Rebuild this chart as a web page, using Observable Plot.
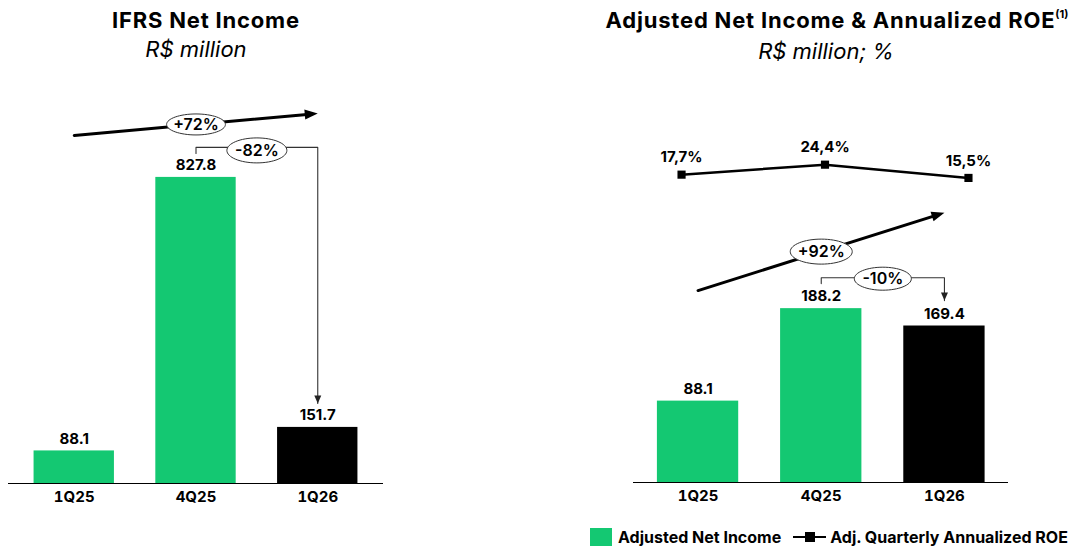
<!DOCTYPE html>
<html>
<head>
<meta charset="utf-8">
<script src="https://cdn.jsdelivr.net/npm/d3@7"></script>
<script src="https://cdn.jsdelivr.net/npm/@observablehq/plot@0.6"></script>
<style>
  body { margin: 0; background: #fff; font-family: Inter, "Noto Sans", sans-serif; color: #000; }
  #root { position: relative; width: 1073px; height: 548px; overflow: hidden; }
  .title { position: absolute; text-align: center; font-weight: 700; font-size: 22px; line-height: 28px; white-space: nowrap; letter-spacing: 0.8px; }
  .title sup { font-size: 11px; vertical-align: 10px; line-height: 0; letter-spacing: 0; }
  .sub { position: absolute; text-align: center; font-style: italic; font-size: 22px; line-height: 26px; white-space: nowrap; }
  .chart { position: absolute; top: 70px; }
  .legend { position: absolute; left: 590px; top: 527px; height: 19px; display: flex; align-items: center; font-weight: 700; font-size: 16px; white-space: nowrap; }
  .sw { display: inline-block; width: 22px; height: 18px; margin-right: 6px; }
  .lineicon { position: relative; display: inline-block; width: 33px; height: 18px; margin-left: 12px; margin-right: 4px; }
  .lineicon::before { content: ""; position: absolute; left: 0; right: 0; top: 8px; height: 2.5px; background: #000; }
  .lineicon::after { content: ""; position: absolute; left: 12px; top: 4.5px; width: 10px; height: 10px; background: #000; }
</style>
</head>
<body>
<div id="root">
  <div class="title" style="left:0px;width:412px;top:6px;">IFRS Net Income</div>
  <div class="sub" style="left:0px;width:392px;top:36px;">R$ million</div>
  <div class="title" style="left:587px;width:500px;top:6px;">Adjusted Net Income &amp; Annualized ROE<sup>(1)</sup></div>
  <div class="sub" style="left:626px;width:400px;top:38px;">R$ million; %</div>
  <div id="left" class="chart" style="left:0px;"></div>
  <div id="right" class="chart" style="left:580px;"></div>
  <div class="legend" id="legend"></div>
</div>
<script>
// ---------------- data ----------------
const quarters = ["1Q25", "4Q25", "1Q26"];
const ifrsNetIncome = [88.1, 827.8, 151.7];
const adjNetIncome = [88.1, 188.2, 169.4];
const adjAnnualizedRoe = [17.7, 24.4, 15.5];
const ifrsChanges = ["+72%", "-82%"];   // 1Q26 vs 1Q25, 1Q26 vs 4Q25
const adjChanges = ["+92%", "-10%"];    // 1Q26 vs 1Q25, 1Q26 vs 4Q25
const seriesNames = ["Adjusted Net Income", "Adj. Quarterly Annualized ROE"];

// ---------------- styles ----------------
const GREEN = "#14c872";
const BLACK = "#000000";
const HALF_BAR = 0.33;

function ellipseSymbol(aspect) {
  return {
    draw(context, size) {
      const ry = Math.sqrt(size / Math.PI), rx = ry * aspect, k = 0.5523;
      context.moveTo(rx, 0);
      context.bezierCurveTo(rx, ry * k, rx * k, ry, 0, ry);
      context.bezierCurveTo(-rx * k, ry, -rx, ry * k, -rx, 0);
      context.bezierCurveTo(-rx, -ry * k, -rx * k, -ry, 0, -ry);
      context.bezierCurveTo(rx * k, -ry, rx, -ry * k, rx, 0);
      context.closePath();
    }
  };
}
// filled arrowhead with its tip at the dot position, pointing along angle a (radians, screen space)
function headSymbol(a, L, W) {
  return {
    draw(context) {
      const c = Math.cos(a), s = Math.sin(a);
      const p = [[0, 0], [-L, -W / 2], [-L, W / 2]].map(([x, y]) => [x * c - y * s, x * s + y * c]);
      context.moveTo(p[0][0], p[0][1]);
      context.lineTo(p[1][0], p[1][1]);
      context.lineTo(p[2][0], p[2][1]);
      context.closePath();
    }
  };
}

const rowsOf = (values) => quarters.map((q, i) => ({i, q, v: values[i], fill: i === quarters.length - 1 ? BLACK : GREEN}));

function baseMarks(rows) {
  return [
    Plot.rectY(rows, {x1: d => d.i - HALF_BAR, x2: d => d.i + HALF_BAR, y1: 0, y2: "v", fill: "fill"}),
    Plot.ruleY([0], {stroke: "#000", strokeWidth: 1.2}),
    Plot.text(rows, {x: "i", y: "v", text: d => d.v.toFixed(1), dy: -12, fontSize: 15, fontWeight: 700}),
    Plot.axisX({ticks: [0, 1, 2], tickFormat: i => quarters[i], tickSize: 0, tickPadding: 8, label: null, fontSize: 15, fontWeight: 700})
  ];
}

function annotationMarks(a, labels, L) {
  const xs = Plot.scale({x: {domain: L.xDomain, range: [L.marginLeft, L.width - L.marginRight]}});
  const ys = Plot.scale({y: {domain: L.yDomain, range: [L.height - L.marginBottom, L.marginTop]}});
  const angle = Math.atan2(ys.apply(a.g1) - ys.apply(a.g0), xs.apply(2) - xs.apply(0));
  const gm = (a.g0 + a.g1) / 2;
  return [
    // growth arrow (first vs last quarter)
    Plot.arrow([a], {x1: 0, y1: "g0", x2: 2, y2: "g1", stroke: "#000", strokeWidth: 3, headLength: 0, insetEnd: 8}),
    Plot.dot([a], {x: 2, y: "g1", r: 6, symbol: headSymbol(angle, 13, 10), fill: "#000", stroke: "none"}),
    Plot.dot([a], {x: 1, y: () => gm, r: a.r1, symbol: ellipseSymbol(a.asp1), fill: "#fff", stroke: "#333", strokeWidth: 1}),
    Plot.text([a], {x: 1, y: () => gm, text: () => labels[0], fontSize: 16, fontWeight: 600}),
    // bracket (previous quarter vs last quarter)
    Plot.line([{x: 1, y: a.b0}, {x: 1, y: a.b}, {x: 2, y: a.b}, {x: 2, y: a.tip}], {x: "x", y: "y", stroke: "#333", strokeWidth: 1.1}),
    Plot.dot([a], {x: 2, y: "tip", r: 4, symbol: headSymbol(Math.PI / 2, 8, 7), fill: "#222", stroke: "none"}),
    Plot.dot([a], {x: 1.5, y: "b", dy: a.edy, r: a.r2, symbol: ellipseSymbol(a.asp2), fill: "#fff", stroke: "#333", strokeWidth: 1}),
    Plot.text([a], {x: 1.5, y: "b", dy: a.edy, text: () => labels[1], fontSize: 16, fontWeight: 600})
  ];
}

const plotStyle = {fontFamily: "Inter, 'Noto Sans', sans-serif", fontSize: "15px", fontWeight: 700, color: "#000", background: "transparent", overflow: "visible"};

// ---------------- left: IFRS ----------------
const Lmax = d3.max(ifrsNetIncome);
const leftLayout = {width: 400, height: 440, marginLeft: 8, marginRight: 17, marginTop: 24, marginBottom: 27, xDomain: [-0.54, 2.54], yDomain: [0, 1052]};
const leftAnn = {
  g0: Lmax * 1.137, g1: Lmax * 1.209,
  b0: Lmax * 1.078, b: Lmax * 1.098,
  tip: ifrsNetIncome[2] + Lmax * 0.078,
  r1: 10.5, asp1: 2.8, r2: 12.5, asp2: 2.4, edy: 3
};
const left = Plot.plot({
  ...leftLayout,
  x: {domain: leftLayout.xDomain},
  y: {domain: leftLayout.yDomain, axis: null},
  color: {type: "identity"},
  style: plotStyle,
  marks: [...baseMarks(rowsOf(ifrsNetIncome)), ...annotationMarks(leftAnn, ifrsChanges, leftLayout)]
});
document.getElementById("left").append(left);

// ---------------- right: Adjusted ----------------
const Rmax = d3.max(adjNetIncome);
const rightLayout = {width: 480, height: 440, marginLeft: 53, marginRight: 52, marginTop: 24, marginBottom: 28, xDomain: [-0.524, 2.52], yDomain: [0, 420]};
const rightAnn = {
  g0: Rmax * 1.104, g1: Rmax * 1.552,
  b0: Rmax * 1.144, b: Rmax * 1.178,
  tip: adjNetIncome[2] + Rmax * 0.146,
  r1: 12.5, asp1: 2.48, r2: 11.5, asp2: 2.48, edy: 1
};
// ROE (%) line drawn in the upper band of the chart, spread a little wider than the bars
const roeToBarUnits = d3.scaleLinear().domain([0, 30]).range([Rmax * 1.619, Rmax * 1.876]);
const roeX = d3.scaleLinear().domain([0, 2]).range([-0.134, 2.195]);
const roeRows = quarters.map((q, i) => ({i, roe: adjAnnualizedRoe[i]}));
const right = Plot.plot({
  ...rightLayout,
  x: {domain: rightLayout.xDomain},
  y: {domain: rightLayout.yDomain, axis: null},
  color: {type: "identity"},
  style: plotStyle,
  marks: [
    ...baseMarks(rowsOf(adjNetIncome)),
    ...annotationMarks(rightAnn, adjChanges, rightLayout),
    Plot.line(roeRows, {x: d => roeX(d.i), y: d => roeToBarUnits(d.roe), stroke: "#000", strokeWidth: 2.5}),
    Plot.dot(roeRows, {x: d => roeX(d.i), y: d => roeToBarUnits(d.roe), symbol: "square", r: 4.6, fill: "#000"}),
    Plot.text(roeRows, {x: d => roeX(d.i), y: d => roeToBarUnits(d.roe), text: d => d.roe.toFixed(1).replace(".", ",") + "%", dy: -17, fontSize: 15, fontWeight: 700})
  ]
});
document.getElementById("right").append(right);

// ---------------- legend ----------------
const lg = document.getElementById("legend");
lg.innerHTML = `<span class="sw" style="background:${GREEN}"></span><span>${seriesNames[0]}</span><span class="lineicon"></span><span>${seriesNames[1]}</span>`;
</script>
</body>
</html>
